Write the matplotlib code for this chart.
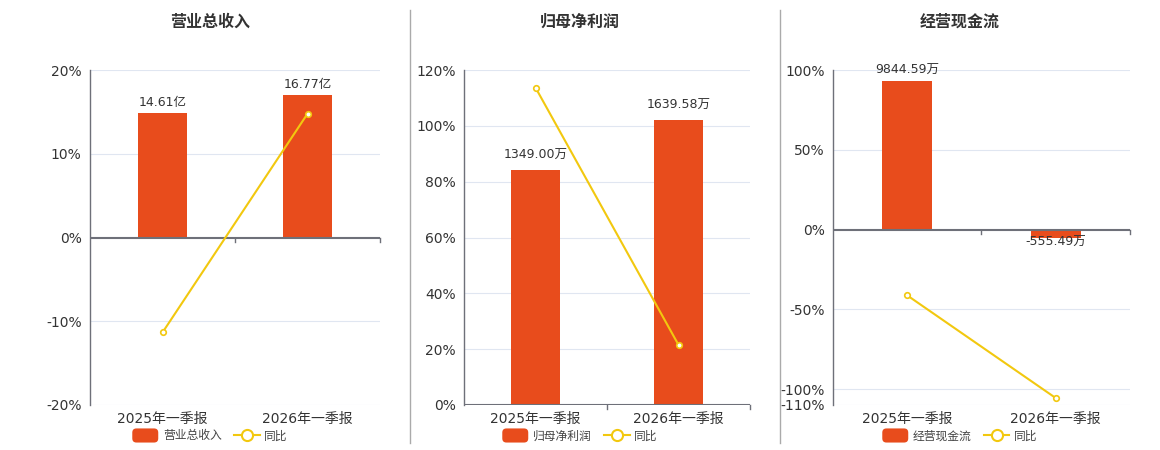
import matplotlib
matplotlib.use("Agg")
import matplotlib.pyplot as plt
from matplotlib.patches import Patch, FancyBboxPatch
from matplotlib.lines import Line2D
from matplotlib.legend_handler import HandlerPatch

plt.rcParams['font.family'] = ['DejaVu Sans', 'Noto Sans CJK SC']

categories = ['2025年一季报', '2026年一季报']

titles = ['营业总收入', '归母净利润', '经营现金流']
bar_values = [[14.61, 16.77], [1349.00, 1639.58], [9844.59, -555.49]]
bar_labels = [['14.61亿', '16.77亿'], ['1349.00万', '1639.58万'], ['9844.59万', '-555.49万']]
yoy = [[-11.34, 14.78], [113.7, 21.54], [-41.3, -105.64]]

pct_ticks = [[-20, -10, 0, 10, 20], [0, 20, 40, 60, 80, 100, 120], [-110, -100, -50, 0, 50, 100]]
pct_lims = [(-20, 20), (0, 120), (-110, 100)]
bar_tops = [19.7, 1927.0, 10571.0]

BAR = '#E84C1C'
LINE = '#F2C80F'
GRID = '#E0E6F1'
AXIS = '#6E7079'
TXT = '#333333'


def rounded_patch(legend, orig_handle, xdescent, ydescent, width, height, fontsize):
    return FancyBboxPatch((-xdescent, -ydescent - 1), width, height + 2,
                          boxstyle='round,pad=0,rounding_size=3', fc=BAR, ec='none')


fig = plt.figure(figsize=(11.6, 4.5), dpi=100)
rects = [(90, 290), (464, 286), (833, 297)]
center_x = [210, 580, 960]

for i in range(3):
    x0, w = rects[i]
    ax = fig.add_axes([x0 / 1160, 45 / 450, w / 1160, 335 / 450])
    lo, hi = pct_lims[i]
    ax.set_xlim(0, 2)
    ax.set_ylim(lo, hi)
    ax.set_yticks(pct_ticks[i])
    ax.set_yticklabels([f'{t}%' for t in pct_ticks[i]], fontsize=10, color=TXT)
    ax.tick_params(axis='y', length=0, pad=6)
    ax.set_xticks([0.5, 1.5])
    ax.set_xticklabels(categories, fontsize=10, color=TXT)
    ax.tick_params(axis='x', length=0, pad=5)
    for s in ['top', 'right', 'bottom']:
        ax.spines[s].set_visible(False)
    ax.spines['left'].set_color(AXIS)
    ax.spines['left'].set_linewidth(1)
    for t in pct_ticks[i]:
        if t != 0:
            ax.axhline(t, color=GRID, lw=0.8, zorder=0)

    # bar axis (hidden), zero aligned with percent axis
    bx = ax.twinx()
    top = bar_tops[i]
    bx.set_ylim(lo / hi * top, top)
    bx.set_xlim(0, 2)
    bx.axis('off')
    bx.bar([0.5, 1.5], bar_values[i], width=0.34, color=BAR, zorder=2)
    for k, v in enumerate(bar_values[i]):
        xc = 0.5 + k
        if v >= 0:
            bx.text(xc, v + top * 0.025, bar_labels[i][k], ha='center', va='bottom',
                    fontsize=9, color=TXT)
        else:
            bx.text(xc, v + top * 0.01, bar_labels[i][k], ha='center', va='top',
                    fontsize=9, color=TXT)

    # zero baseline with ticks, and yoy line on top
    lx = fig.add_axes(ax.get_position(), sharex=ax, sharey=ax)
    lx.axis('off')
    lx.axhline(0, color=AXIS, lw=1.5, zorder=3)
    for xt in [1.0, 2.0]:
        lx.plot([xt, xt], [0, -(hi - lo) * 0.012], color=AXIS, lw=1, clip_on=False)
    lx.plot([0.5, 1.5], yoy[i], color=LINE, lw=1.5, marker='o', ms=4,
            mfc='white', mec=LINE, mew=1.2, zorder=5, clip_on=False)

    fig.text(center_x[i] / 1160, 1 - 22 / 450, titles[i], ha='center', va='center',
             fontsize=11.5, fontweight='bold', color=TXT)

    handles = [Patch(fc=BAR, ec='none'),
               Line2D([0], [0], color=LINE, lw=1.5, marker='o', ms=8, mfc='white', mec=LINE, mew=1.5)]
    fig.legend(handles, [titles[i], '同比'], loc='center',
               bbox_to_anchor=(center_x[i] / 1160, 14 / 450), ncol=2, frameon=False,
               fontsize=8.5, handlelength=2.2, handleheight=1.1, columnspacing=1.0,
               handletextpad=0.4, labelcolor='#444444',
               handler_map={Patch: HandlerPatch(patch_func=rounded_patch)})

for xs in [410, 780]:
    fig.add_artist(Line2D([xs / 1160, xs / 1160], [7 / 450, 440 / 450], color='#AAAAAA', lw=1))

fig.savefig('out.png', dpi=100)
